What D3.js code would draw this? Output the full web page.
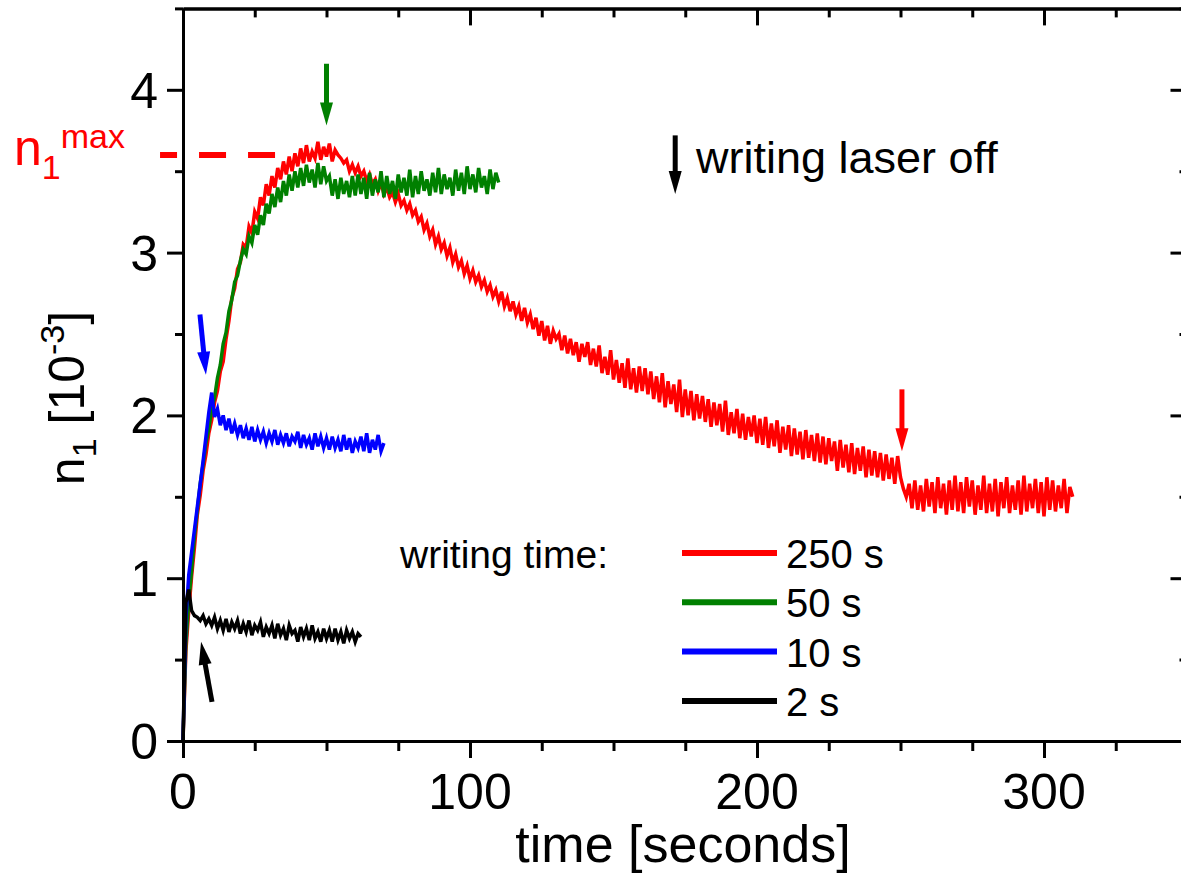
<!DOCTYPE html>
<html>
<head>
    <title>Refractive index modulation</title>
    <script src="https://d3js.org/d3.v7.min.js"></script>
    <style>
        body { margin: 0; background: white; }
        text { font-family: "Liberation Sans", Arial, sans-serif; }
    </style>
</head>
<body>
    <script>
        //****DATA****
        // one sample per second, starting at t = 0
        const sampleStep = 1;

        // writing time 250 s
        const red250 = [
            0, 0.55, 0.80, 1.01, 1.19, 1.39, 1.51, 1.66, 1.76, 1.89, 1.97, 2.08, 2.15, 2.27, 2.33, 2.47, 2.58, 2.72, 2.78, 2.90, 2.94,
            3.05, 3.03, 3.16, 3.12, 3.25, 3.21, 3.34, 3.29, 3.42, 3.35, 3.47, 3.40, 3.52, 3.45, 3.56, 3.48, 3.59, 3.50, 3.61, 3.53,
            3.64, 3.55, 3.66, 3.56, 3.62, 3.58, 3.68, 3.57, 3.65, 3.59, 3.67, 3.56, 3.63, 3.60, 3.58, 3.55, 3.57, 3.50, 3.54, 3.49,
            3.53, 3.47, 3.50, 3.44, 3.48, 3.42, 3.45, 3.38, 3.43, 3.36, 3.40, 3.34, 3.37, 3.31, 3.36, 3.29, 3.32, 3.26, 3.30, 3.23,
            3.26, 3.19, 3.22, 3.14, 3.18, 3.10, 3.14, 3.05, 3.10, 3.02, 3.06, 2.98, 3.03, 2.94, 2.99, 2.91, 2.95, 2.87, 2.92, 2.84,
            2.89, 2.82, 2.86, 2.79, 2.83, 2.76, 2.80, 2.73, 2.77, 2.70, 2.76, 2.67, 2.72, 2.64, 2.70, 2.62, 2.67, 2.58, 2.66, 2.57,
            2.62, 2.53, 2.60, 2.49, 2.58, 2.46, 2.55, 2.44, 2.52, 2.47, 2.50, 2.40, 2.49, 2.38, 2.47, 2.37, 2.45, 2.33, 2.44, 2.36,
            2.45, 2.31, 2.41, 2.30, 2.43, 2.26, 2.36, 2.25, 2.40, 2.22, 2.34, 2.20, 2.32, 2.17, 2.35, 2.16, 2.29, 2.14, 2.30, 2.15,
            2.29, 2.13, 2.27, 2.10, 2.24, 2.08, 2.26, 2.05, 2.21, 2.07, 2.19, 2.02, 2.22, 1.99, 2.16, 2.00, 2.15, 1.97, 2.13, 1.98,
            2.12, 1.96, 2.10, 1.93, 2.08, 1.94, 2.07, 1.90, 2.09, 1.88, 2.02, 1.89, 2.04, 1.86, 2.01, 1.85, 1.99, 1.87, 2.00, 1.83,
            1.98, 1.82, 1.99, 1.80, 1.95, 1.81, 1.97, 1.77, 1.93, 1.79, 1.94, 1.75, 1.92, 1.76, 1.90, 1.73, 1.91, 1.74, 1.88, 1.72,
            1.89, 1.71, 1.87, 1.70, 1.86, 1.72, 1.84, 1.66, 1.85, 1.68, 1.82, 1.65, 1.83, 1.64, 1.80, 1.66, 1.81, 1.62, 1.79, 1.63,
            1.78, 1.62, 1.77, 1.60, 1.76, 1.61, 1.74, 1.58, 1.75, 1.62,
            1.55, 1.50, 1.58, 1.43, 1.60, 1.42, 1.57, 1.41, 1.61, 1.44, 1.59, 1.40, 1.62, 1.43, 1.58, 1.39, 1.60, 1.42, 1.63, 1.41,
            1.59, 1.40, 1.62, 1.44, 1.60, 1.39, 1.57, 1.42, 1.63, 1.40, 1.58, 1.41, 1.61, 1.38, 1.59, 1.43, 1.62, 1.40, 1.57, 1.42,
            1.60, 1.39, 1.63, 1.41, 1.58, 1.43, 1.61, 1.40, 1.59, 1.38, 1.62, 1.42, 1.60, 1.41, 1.57, 1.43, 1.61, 1.40, 1.56, 1.50
        ];

        // writing time 50 s
        const green50 = [
            0, 0.60, 0.86, 1.05, 1.26, 1.42, 1.58, 1.70, 1.83, 1.92, 2.04, 2.11, 2.23, 2.31, 2.44, 2.51, 2.64, 2.71, 2.82, 2.86, 2.95,
            3.02, 2.99, 3.10, 3.06, 3.17, 3.11, 3.23, 3.17, 3.30, 3.24, 3.36, 3.28, 3.40, 3.31, 3.44, 3.35, 3.48, 3.38, 3.50, 3.40,
            3.52, 3.41, 3.54, 3.43, 3.51, 3.40, 3.55, 3.42, 3.53, 3.44, 3.47, 3.35, 3.45, 3.33, 3.46, 3.36, 3.44, 3.34, 3.47, 3.35,
            3.48, 3.36, 3.46, 3.33, 3.49, 3.35, 3.45, 3.37, 3.50, 3.34, 3.47, 3.36, 3.44, 3.33, 3.48, 3.37, 3.46, 3.35, 3.51, 3.34,
            3.47, 3.36, 3.50, 3.38, 3.45, 3.35, 3.49, 3.37, 3.52, 3.36, 3.48, 3.39, 3.46, 3.35, 3.51, 3.38, 3.49, 3.36, 3.53, 3.39,
            3.48, 3.37, 3.52, 3.40, 3.47, 3.36, 3.51, 3.39, 3.49, 3.43
        ];

        // writing time 10 s
        const blue10 = [
            0, 0.75, 1.02, 1.16, 1.30, 1.44, 1.58, 1.72, 1.87, 2.02, 2.14,
            1.99, 2.04, 1.94, 2.00, 1.91, 1.98, 1.89, 1.95, 1.88, 1.94, 1.86, 1.92, 1.85, 1.93, 1.84, 1.91, 1.85, 1.90, 1.83, 1.89,
            1.84, 1.91, 1.82, 1.88, 1.83, 1.89, 1.81, 1.87, 1.84, 1.90, 1.80, 1.88, 1.82, 1.86, 1.79, 1.89, 1.81, 1.87, 1.80, 1.86,
            1.79, 1.87, 1.80, 1.85, 1.78, 1.88, 1.79, 1.86, 1.77, 1.84, 1.80, 1.87, 1.78, 1.89, 1.77, 1.85, 1.79, 1.88, 1.78, 1.83
        ];

        // writing time 2 s
        const black2 = [
            0, 0.85, 0.93, 0.80, 0.77, 0.76, 0.74, 0.77, 0.72, 0.75, 0.71,
            0.76, 0.69, 0.74, 0.68, 0.75, 0.67, 0.73, 0.69, 0.74, 0.66, 0.72, 0.67, 0.74, 0.65, 0.71, 0.68, 0.73, 0.64, 0.70, 0.66,
            0.71, 0.63, 0.72, 0.65, 0.69, 0.62, 0.71, 0.66, 0.68, 0.61, 0.70, 0.64, 0.69, 0.62, 0.71, 0.63, 0.67, 0.61, 0.69, 0.63,
            0.68, 0.61, 0.69, 0.62, 0.67, 0.60, 0.68, 0.63, 0.67, 0.61, 0.66, 0.64
        ];

        const seriesNames = ['250 s', '50 s', '10 s', '2 s'];
        const seriesColors = ['#ff0000', '#008000', '#0000ff', '#000000'];
        const seriesValues = [red250, green50, blue10, black2];

        const xTicks = [0, 100, 200, 300];
        const yTicks = [0, 1, 2, 3, 4];
        const n1max = 3.6;

        // "writing laser off" arrows: [t start, n start, t tip, n tip]
        const laserOffArrows = [
            { color: '#008000', pts: [50, 4.16, 50, 3.78] },
            { color: '#0000ff', pts: [5.9, 2.62, 8.0, 2.25] },
            { color: '#000000', pts: [10.1, 0.24, 6.3, 0.61] },
            { color: '#ff0000', pts: [250.5, 2.16, 250.5, 1.78] },
            { color: '#000000', pts: [171.5, 3.72, 171.5, 3.36] }
        ];

        //****CANVAS****
        const width = 1181;
        const height = 881;
        const plotLeft = 183, plotRight = 1187.5, plotTop = 8.4, plotBottom = 741;

        const svg = d3.select('body')
            .append('svg')
            .attr('width', width)
            .attr('height', height);

        //****SCALES****
        const xScale = d3.scaleLinear().domain([0, 350]).range([plotLeft, plotRight]);
        const yScale = d3.scaleLinear().domain([0, 4.5]).range([plotBottom, plotTop]);

        //****PLOT THE DATA****
        const line = d3.line()
            .x((d, i) => xScale(i * sampleStep))
            .y(d => yScale(d));

        svg.append('g')
            .selectAll('path')
            .data(seriesValues)
            .enter()
            .append('path')
            .attr('d', d => line(d))
            .attr('fill', 'none')
            .attr('stroke', (_, i) => seriesColors[i])
            .attr('stroke-width', 3.5)
            .attr('stroke-linejoin', 'miter');

        //****AXES****
        function styleAxis(g) {
            g.select('.domain').attr('stroke-width', 3);
            g.selectAll('.tick line').attr('stroke-width', 3);
            g.selectAll('text').remove();
        }

        const xMinor = d3.range(0, 351, 25).filter(v => v % 100 !== 0);
        const yMinor = d3.range(0, 4.51, 0.5).filter(v => v % 1 !== 0);

        // bottom: major + minor outward
        svg.append('g')
            .attr('transform', `translate(0,${plotBottom})`)
            .call(d3.axisBottom(xScale).tickValues(xMinor).tickSize(10).tickSizeOuter(0))
            .call(styleAxis);
        svg.append('g')
            .attr('transform', `translate(0,${plotBottom})`)
            .call(d3.axisBottom(xScale).tickValues(xTicks).tickSize(17).tickSizeOuter(0))
            .call(styleAxis);

        // top: inward
        svg.append('g')
            .attr('transform', `translate(0,${plotTop})`)
            .call(d3.axisBottom(xScale).tickValues(xMinor).tickSize(9).tickSizeOuter(0))
            .call(styleAxis);
        svg.append('g')
            .attr('transform', `translate(0,${plotTop})`)
            .call(d3.axisBottom(xScale).tickValues(xTicks).tickSize(17).tickSizeOuter(0))
            .call(styleAxis);

        // left: outward
        svg.append('g')
            .attr('transform', `translate(${plotLeft},0)`)
            .call(d3.axisLeft(yScale).tickValues(yMinor).tickSize(8).tickSizeOuter(0))
            .call(styleAxis);
        svg.append('g')
            .attr('transform', `translate(${plotLeft},0)`)
            .call(d3.axisLeft(yScale).tickValues(yTicks).tickSize(16).tickSizeOuter(0))
            .call(styleAxis);

        // right: inward
        svg.append('g')
            .attr('transform', `translate(${plotRight},0)`)
            .call(d3.axisLeft(yScale).tickValues(yMinor).tickSize(8).tickSizeOuter(0))
            .call(styleAxis);
        svg.append('g')
            .attr('transform', `translate(${plotRight},0)`)
            .call(d3.axisLeft(yScale).tickValues(yTicks).tickSize(17).tickSizeOuter(0))
            .call(styleAxis);

        // tick labels
        svg.append('g')
            .selectAll('text')
            .data(xTicks)
            .enter()
            .append('text')
            .attr('x', d => xScale(d))
            .attr('y', 809)
            .attr('text-anchor', 'middle')
            .style('font-size', '50px')
            .text(d => d);

        svg.append('g')
            .selectAll('text')
            .data(yTicks)
            .enter()
            .append('text')
            .attr('x', 158)
            .attr('y', d => yScale(d))
            .attr('dy', '0.36em')
            .attr('text-anchor', 'end')
            .style('font-size', '50px')
            .text(d => d);

        // axis titles
        svg.append('text')
            .attr('x', 683)
            .attr('y', 862)
            .attr('text-anchor', 'middle')
            .style('font-size', '52px')
            .text('time [seconds]');

        const yTitle = svg.append('text')
            .attr('transform', 'translate(84,398) rotate(-90)')
            .attr('text-anchor', 'middle')
            .style('font-size', '50px');
        yTitle.append('tspan').text('n');
        yTitle.append('tspan').attr('dy', 12).style('font-size', '34px').text('1');
        yTitle.append('tspan').attr('dy', -12).text(' [10');
        yTitle.append('tspan').attr('dy', -20).style('font-size', '34px').text('-3');
        yTitle.append('tspan').attr('dy', 20).text(']');

        //****N1 MAX MARKER****
        svg.append('line')
            .attr('x1', xScale(-8))
            .attr('x2', xScale(35))
            .attr('y1', yScale(n1max))
            .attr('y2', yScale(n1max))
            .attr('stroke', '#ff0000')
            .attr('stroke-width', 6)
            .attr('stroke-dasharray', '27,22')
            .attr('stroke-dashoffset', 10);

        const maxLabel = svg.append('text')
            .attr('x', 14)
            .attr('y', 165)
            .attr('fill', '#ff0000')
            .style('font-size', '50px');
        maxLabel.append('tspan').text('n');
        maxLabel.append('tspan').attr('dy', 14).style('font-size', '34px').text('1');
        maxLabel.append('tspan').attr('dy', -31).style('font-size', '34px').text('max');

        //****ARROWS****
        function drawArrow(a) {
            const x1 = xScale(a.pts[0]), y1 = yScale(a.pts[1]);
            const x2 = xScale(a.pts[2]), y2 = yScale(a.pts[3]);
            const len = Math.hypot(x2 - x1, y2 - y1);
            const ux = (x2 - x1) / len, uy = (y2 - y1) / len;
            const headLen = 23, headW = 6.5;
            const bx = x2 - ux * headLen, by = y2 - uy * headLen;
            svg.append('line')
                .attr('x1', x1).attr('y1', y1)
                .attr('x2', bx + ux * 2).attr('y2', by + uy * 2)
                .attr('stroke', a.color)
                .attr('stroke-width', 5);
            svg.append('path')
                .attr('d', `M${x2},${y2}L${bx - uy * headW},${by + ux * headW}L${bx + uy * headW},${by - ux * headW}Z`)
                .attr('fill', a.color);
        }
        laserOffArrows.forEach(drawArrow);

        svg.append('text')
            .attr('x', 696)
            .attr('y', 173)
            .style('font-size', '45px')
            .text('writing laser off');

        //****LEGEND****
        svg.append('text')
            .attr('x', 400)
            .attr('y', 568)
            .style('font-size', '39px')
            .text('writing time:');

        const legend = svg.append('g')
            .selectAll('g')
            .data(seriesNames)
            .enter()
            .append('g')
            .attr('transform', (d, i) => `translate(682,${553 + i * 49.3})`);

        legend.append('line')
            .attr('x1', 0)
            .attr('x2', 95)
            .attr('stroke', (d, i) => seriesColors[i])
            .attr('stroke-width', 6);

        legend.append('text')
            .attr('x', 104)
            .attr('y', 15)
            .style('font-size', '40px')
            .text(d => d);
    </script>
</body>
</html>
